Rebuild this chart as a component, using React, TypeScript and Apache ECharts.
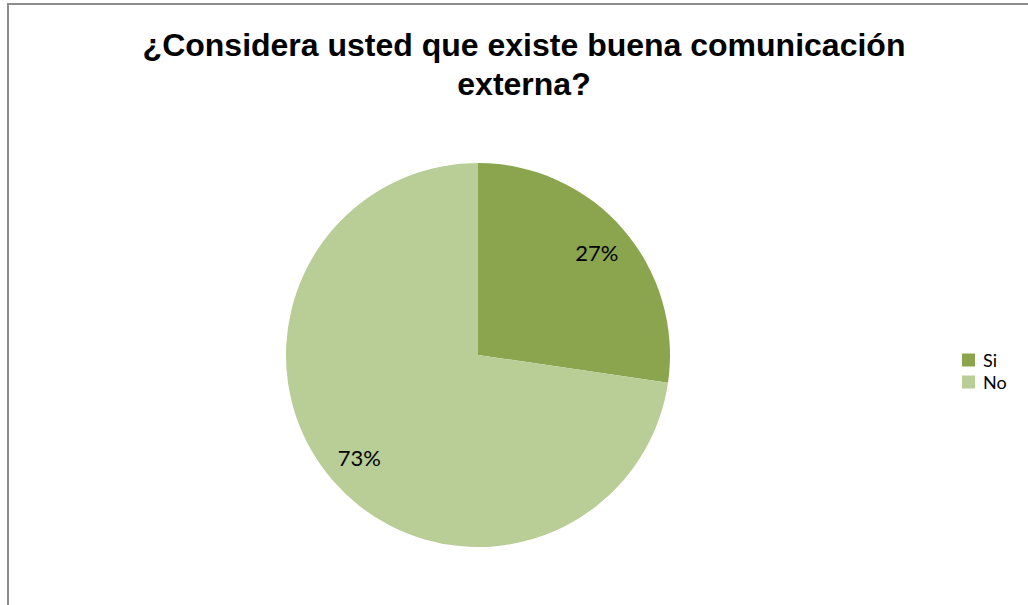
import React, { useEffect, useRef } from "react";
import * as echarts from "echarts";

const categories = ["Si", "No"];
const values = [27.3, 72.7];
const colors = ["#8BA54F", "#B9CD96"];
const titleText = "¿Considera usted que existe buena comunicación\nexterna?";

export default function App() {
  const ref = useRef<HTMLDivElement>(null);
  useEffect(() => {
    if (!ref.current) return;
    const chart = echarts.init(ref.current, undefined, { renderer: "svg" });
    const data = categories.map((name, i) => ({
      name,
      value: values[i],
      itemStyle: { color: colors[i] },
    }));
    chart.setOption({
      animation: false,
      backgroundColor: "#ffffff",
      title: {
        text: titleText,
        left: 524,
        textAlign: "center",
        top: 25,
        padding: 0,
        textStyle: {
          fontFamily: "Liberation Sans",
          fontWeight: "bold",
          fontSize: 32,
          lineHeight: 39,
          color: "#000",
        },
      },
      legend: {
        data: categories,
        orient: "vertical",
        left: 962,
        top: 351,
        padding: 0,
        itemWidth: 13,
        itemHeight: 13,
        itemGap: 4,
        icon: "rect",
        textStyle: {
          fontFamily: "Lato",
          fontSize: 18,
          lineHeight: 17,
          color: "#000",
          padding: [0, 0, 0, 3],
        },
      },
      graphic: [
        {
          type: "rect",
          shape: { x: 8, y: 4, width: 1200, height: 800 },
          style: { fill: "none", stroke: "#8c8c8c", lineWidth: 2 },
          silent: true,
          z: 100,
        },
      ],
      series: [
        {
          type: "pie",
          center: [478, 355],
          radius: [0, 192],
          startAngle: 90,
          clockwise: true,
          label: { show: false },
          labelLine: { show: false },
          data,
          silent: true,
        },
        {
          type: "pie",
          center: [478, 355],
          radius: [0, 308],
          startAngle: 90,
          clockwise: true,
          silent: true,
          percentPrecision: 0,
          itemStyle: { color: "rgba(0,0,0,0)" },
          label: {
            show: true,
            position: "inside",
            formatter: "{d}%",
            fontFamily: "Lato",
            fontSize: 22,
            color: "#000",
          },
          labelLine: { show: false },
          data: categories.map((name, i) => ({ name, value: values[i] })),
          z: 5,
        },
      ],
    });
    return () => chart.dispose();
  }, []);
  return (
    <div
      ref={ref}
      style={{ position: "absolute", left: 0, top: 0, width: 1028, height: 605 }}
    />
  );
}
